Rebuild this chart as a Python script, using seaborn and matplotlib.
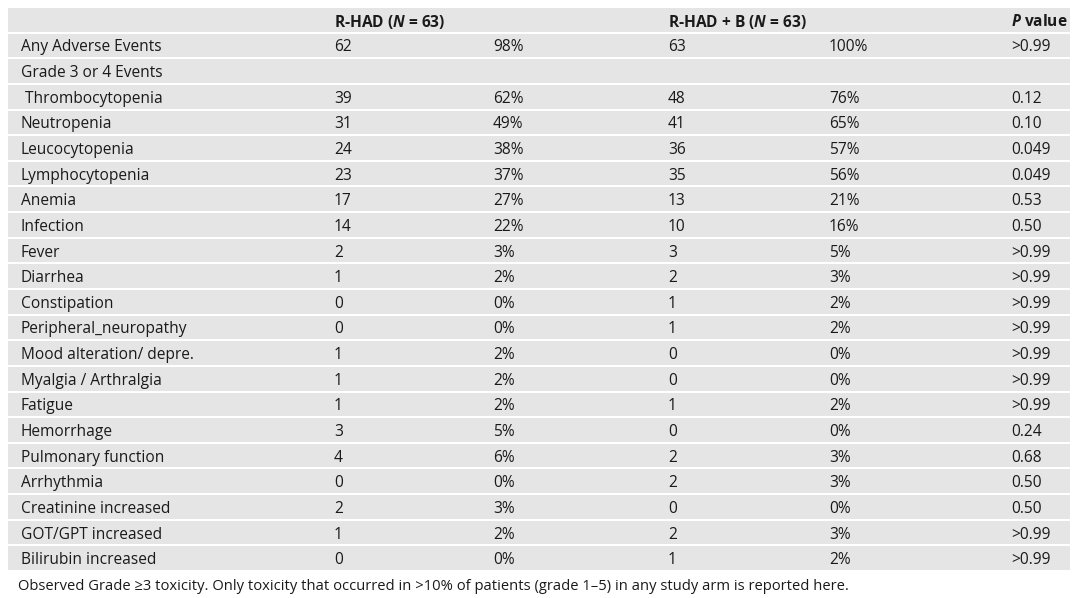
"""
Grade >=3 toxicity table, R-HAD vs R-HAD + B, drawn on a seaborn heatmap.
"""
import numpy as np
import matplotlib
matplotlib.use("Agg")
import matplotlib.pyplot as plt
from matplotlib.colors import ListedColormap
import seaborn as sns

sns.set_theme(style="white")
plt.rcParams["font.family"] = ["Open Sans", "DejaVu Sans"]
plt.rcParams["mathtext.fontset"] = "custom"
plt.rcParams["mathtext.rm"] = "Open Sans"
plt.rcParams["mathtext.bfit"] = "Open Sans:italic:bold"

headers = ["", r"R-HAD ($\mathbfit{N}$ = 63)", "", r"R-HAD + B ($\mathbfit{N}$ = 63)", "",
           r"$\mathbfit{P}$ value"]

events = ["Any Adverse Events", "Grade 3 or 4 Events", " Thrombocytopenia", "Neutropenia",
          "Leucocytopenia", "Lymphocytopenia", "Anemia", "Infection", "Fever", "Diarrhea",
          "Constipation", "Peripheral_neuropathy", "Mood alteration/ depre.",
          "Myalgia / Arthralgia", "Fatigue", "Hemorrhage", "Pulmonary function",
          "Arrhythmia", "Creatinine increased", "GOT/GPT increased", "Bilirubin increased"]
rhad_n = ["62", "", "39", "31", "24", "23", "17", "14", "2", "1", "0", "0", "1", "1",
          "1", "3", "4", "0", "2", "1", "0"]
rhad_pct = ["98%", "", "62%", "49%", "38%", "37%", "27%", "22%", "3%", "2%", "0%", "0%",
            "2%", "2%", "2%", "5%", "6%", "0%", "3%", "2%", "0%"]
rhadb_n = ["63", "", "48", "41", "36", "35", "13", "10", "3", "2", "1", "1", "0", "0",
           "1", "0", "2", "2", "0", "2", "1"]
rhadb_pct = ["100%", "", "76%", "65%", "57%", "56%", "21%", "16%", "5%", "3%", "2%", "2%",
             "0%", "0%", "2%", "0%", "3%", "3%", "0%", "3%", "2%"]
p_values = [">0.99", "", "0.12", "0.10", "0.049", "0.049", "0.53", "0.50", ">0.99",
            ">0.99", ">0.99", ">0.99", ">0.99", ">0.99", ">0.99", "0.24", "0.68", "0.50",
            "0.50", ">0.99", ">0.99"]

caption = ("Observed Grade \u22653 toxicity. Only toxicity that occurred in >10% of "
           "patients (grade 1\u20135) in any study arm is reported here.")

W, H = 1080, 598
fig = plt.figure(figsize=(W / 100, H / 100), dpi=100)

# table body spans these pixels
left_px, right_px, top_px, bottom_px = 7, 1071, 7, 571
ax = fig.add_axes([left_px / W, 1 - bottom_px / H,
                   (right_px - left_px) / W, (bottom_px - top_px) / H])

n_rows = len(events) + 1
sns.heatmap(np.zeros((n_rows, 1)), ax=ax, cmap=ListedColormap(["#e5e5e5"]),
            cbar=False, linewidths=1.2, linecolor="white",
            xticklabels=False, yticklabels=False)


def col_x(px):
    return (px - left_px) / (right_px - left_px)


col_pos = [col_x(p) for p in (21, 334, 493, 668, 829, 1011)]
txt_color = "#1a1a1a"
fs = 11.2

for x, h in zip(col_pos, headers):
    if h:
        ax.text(x, 0.5, h, ha="left", va="center_baseline", fontsize=fs,
                fontweight="bold", color=txt_color)

columns = [events, rhad_n, rhad_pct, rhadb_n, rhadb_pct, p_values]
for i in range(len(events)):
    for x, col in zip(col_pos, columns):
        ax.text(x, i + 1.5, col[i], ha="left", va="center_baseline", fontsize=fs,
                color=txt_color)

fig.text(18 / W, 1 - 585 / H, caption, ha="left", va="center_baseline", fontsize=10.6,
         color=txt_color)

fig.savefig("out.png", dpi=100)
